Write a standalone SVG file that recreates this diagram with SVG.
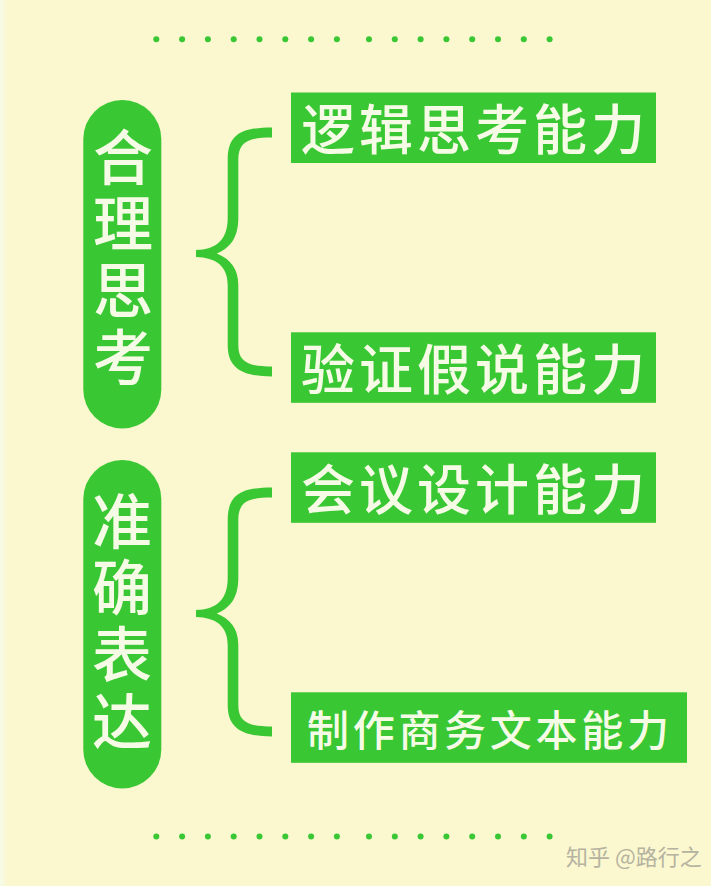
<svg xmlns="http://www.w3.org/2000/svg" width="720" height="886" viewBox="0 0 720 886">
<defs>
<linearGradient id="fade" x1="0" x2="1" y1="0" y2="0"><stop offset="0" stop-color="#f6fbe8"/><stop offset="1" stop-color="#fbf7cf"/></linearGradient>
<path id="brace" d="M272 127.500 C242 127.500 227.700 134 227.700 160 L227.700 218 C227.700 240 216 249.500 196 250 L196 257 C216 257.500 227.700 266 227.700 285 L227.700 345 C227.700 368 242 376.500 272 376.500 L272 366.500 C248 366.500 238.300 362 238.300 345 L238.300 285 C238.300 268 230 259 216.700 253.500 C230 248 238.300 238 238.300 218 L238.300 160 C238.300 142 248 137.500 272 137.500 Z"/>
<g id="dots"><circle cx="156.300" cy="0" r="3"/><circle cx="182.100" cy="0" r="3"/><circle cx="207.900" cy="0" r="3"/><circle cx="233.700" cy="0" r="3"/><circle cx="259.500" cy="0" r="3"/><circle cx="285.300" cy="0" r="3"/><circle cx="311.100" cy="0" r="3"/><circle cx="336.900" cy="0" r="3"/><circle cx="369" cy="0" r="3"/><circle cx="394.800" cy="0" r="3"/><circle cx="420.600" cy="0" r="3"/><circle cx="446.400" cy="0" r="3"/><circle cx="472.200" cy="0" r="3"/><circle cx="498" cy="0" r="3"/><circle cx="523.800" cy="0" r="3"/><circle cx="549.600" cy="0" r="3"/></g>
</defs>
<style>
.g{fill:#39c733}
.t{fill:#f6fbe6;font-family:"Noto Sans CJK SC","Noto Sans",sans-serif;font-weight:500}
.v{font-size:60px;letter-spacing:6.700px;writing-mode:vertical-rl}
.h{font-size:54px;letter-spacing:4px;dominant-baseline:central}
.s{font-size:42px;letter-spacing:3.700px;dominant-baseline:central}
</style>
<rect width="720" height="886" fill="#ffffff"/>
<rect x="0" y="0" width="711" height="886" fill="#fbf7cf"/>
<rect x="0" y="0" width="8" height="886" fill="url(#fade)"/>
<g id="dots-top" class="g" transform="translate(0 39.300)"><use href="#dots"/></g>
<g id="connectors" class="g">
<use href="#brace"/>
<use href="#brace" transform="translate(0 360)"/>
</g>
<g id="node-heli"><rect class="g" x="83.300" y="100" width="78" height="328.500" rx="39"/>
<text class="t v" x="123" y="127">合理思考</text></g>
<g id="node-zhunque"><rect class="g" x="83.300" y="460" width="78" height="328.500" rx="39"/>
<text class="t v" x="122" y="491">准确表达</text></g>
<g id="node-luoji"><rect class="g" x="291" y="92.500" width="365" height="70.500"/><text class="t h" x="301" y="126.500">逻辑思考能力</text></g>
<g id="node-yanzheng"><rect class="g" x="291" y="332.300" width="365" height="70.500"/><text class="t h" x="301" y="366.500">验证假说能力</text></g>
<g id="node-huiyi"><rect class="g" x="291" y="452.300" width="365" height="70.500"/><text class="t h" x="301" y="486.500">会议设计能力</text></g>
<g id="node-wenben"><rect class="g" x="291" y="692.300" width="396" height="70.500"/><text class="t s" x="307" y="727">制作商务文本能力</text></g>
<g id="dots-bottom" class="g" transform="translate(0 836.500)"><use href="#dots"/></g>
<text id="watermark" x="566" y="855" fill="#b5b3a0" font-family="&quot;Noto Sans CJK SC&quot;,sans-serif" font-size="22" dominant-baseline="central">知乎 @路行之</text>
</svg>
